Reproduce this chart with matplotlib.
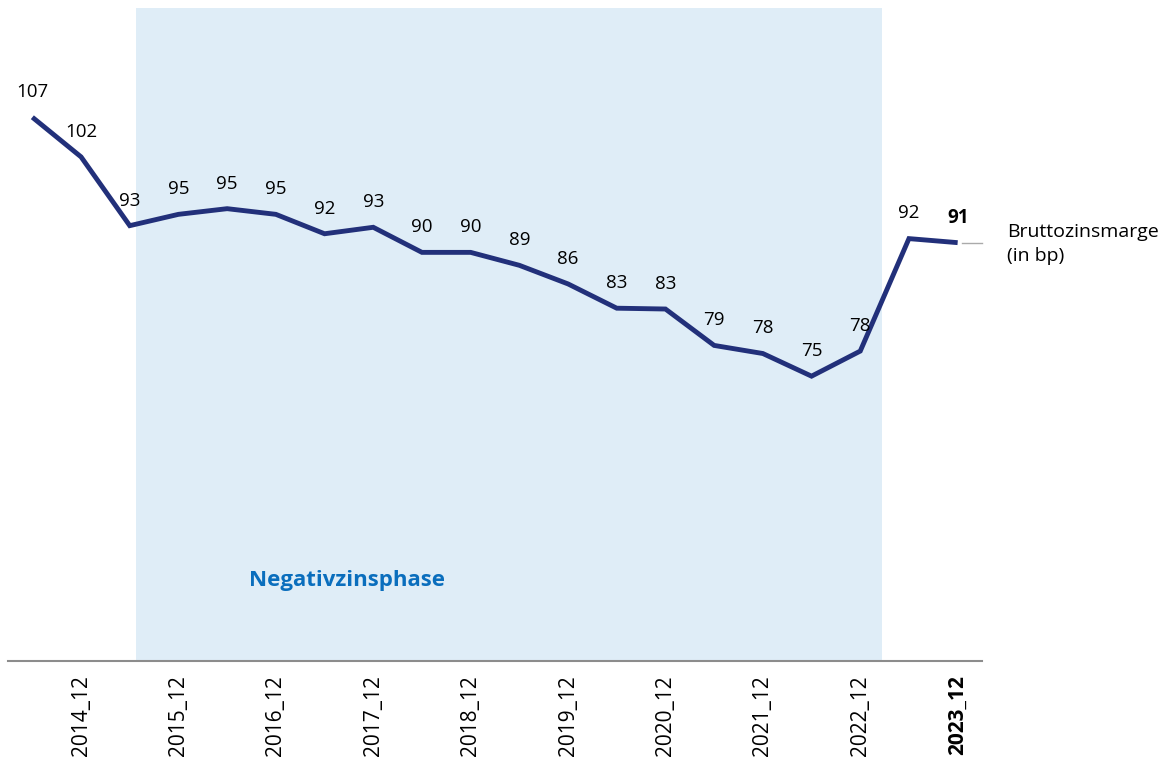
import matplotlib
matplotlib.use("Agg")
import matplotlib.pyplot as plt

periods = ["2014_06", "2014_12", "2015_06", "2015_12", "2016_06", "2016_12", "2017_06", "2017_12",
           "2018_06", "2018_12", "2019_06", "2019_12", "2020_06", "2020_12", "2021_06", "2021_12",
           "2022_06", "2022_12", "2023_06", "2023_12"]
values = [107.0, 102.1, 93.6, 95.0, 95.7, 95.0, 92.6, 93.4, 90.3, 90.3,
          88.7, 86.4, 83.4, 83.3, 78.8, 77.8, 75.0, 78.1, 92.0, 91.5]
value_labels = ["107", "102", "93", "95", "95", "95", "92", "93", "90", "90",
                "89", "86", "83", "83", "79", "78", "75", "78", "92", "91"]
shade_start, shade_end = 2.12, 17.45
shade_label = "Negativzinsphase"
series_label = "Bruttozinsmarge\n(in bp)"

plt.rcParams['font.family'] = ['Open Sans', 'DejaVu Sans']

fig = plt.figure(figsize=(11.64, 7.63), dpi=100)
ax = fig.add_axes([8/1164, 102/763, 974/1164, 653/763])

x = list(range(len(values)))
ax.axvspan(shade_start, shade_end, color='#dfedf7', zorder=0, lw=0)
ax.plot(x, values, color='#22307a', lw=3.5, solid_joinstyle='miter', solid_capstyle='butt', zorder=3)

for i, (v, lab) in enumerate(zip(values, value_labels)):
    last = i == len(values) - 1
    ax.annotate(lab, (i, v), xytext=(0, 14.5), textcoords='offset points',
                ha='center', va='baseline', fontsize=13.5,
                fontweight='bold' if last else 'normal', color='black', zorder=4)

ax.text(6.46, 49.8, shade_label, ha='center', va='center', fontsize=16,
        fontweight='bold', color='#0a6ebd')

ax.set_xlim(-0.5, len(values) - 0.5)
ax.set_ylim(39.8, 120.5)

tick_pos = [i for i, p in enumerate(periods) if p.endswith('_12')]
ax.set_xticks(tick_pos)
ax.set_xticklabels([periods[i] for i in tick_pos], rotation=90, fontsize=15)
ax.get_xticklabels()[-1].set_fontweight('bold')
ax.tick_params(axis='x', length=0, pad=10)
ax.set_yticks([])
for s in ['top', 'left', 'right']:
    ax.spines[s].set_visible(False)
ax.spines['bottom'].set_color('#8c8c8c')
ax.spines['bottom'].set_linewidth(1.5)

# connector tick to series label
ax.plot([19.08, 19.5], [values[-1], values[-1]], color='#aaaaaa', lw=1, clip_on=False)
ax.annotate(series_label, (19.5, values[-1]), xytext=(18, -1), textcoords='offset points',
            ha='left', va='center', fontsize=14, linespacing=1.4, annotation_clip=False)

fig.savefig('out.png', dpi=100)
